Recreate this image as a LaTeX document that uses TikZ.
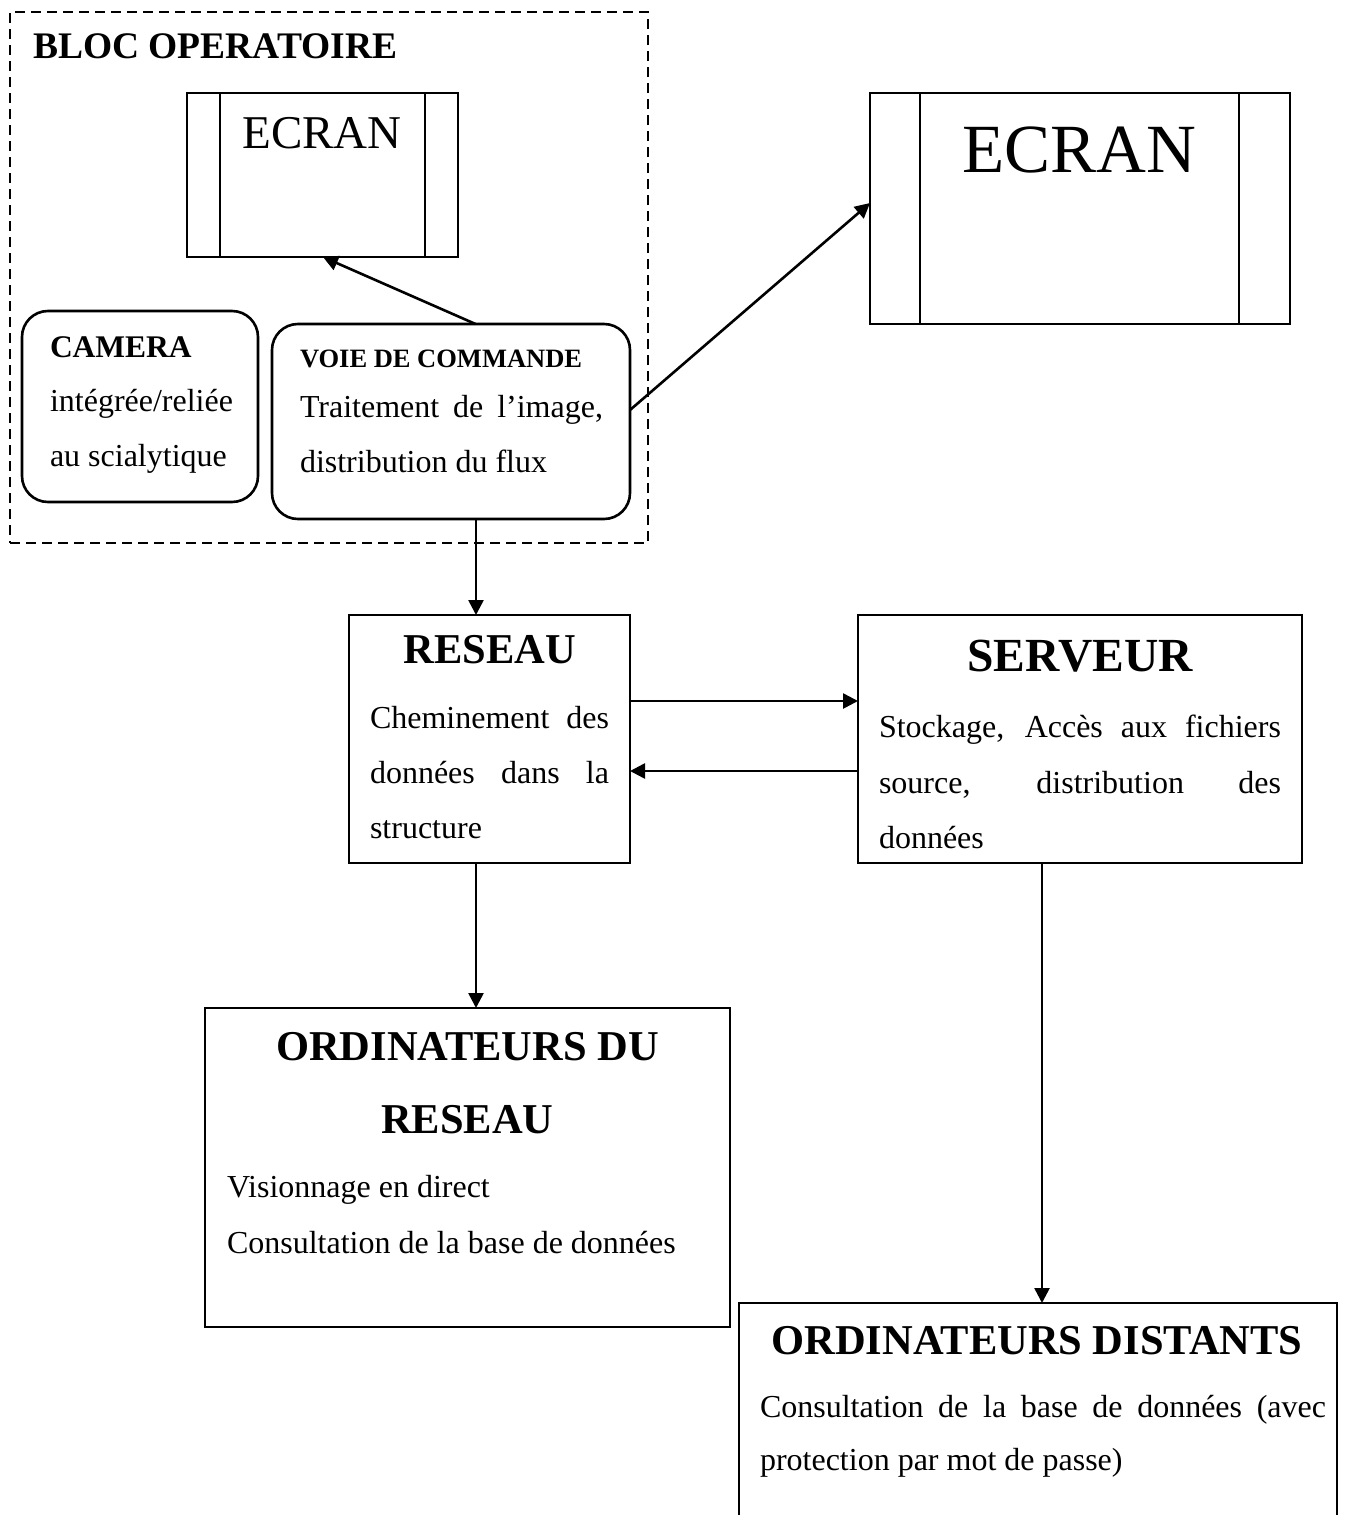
\documentclass[tikz,border=0pt]{standalone}
\usepackage{fontspec}
\setmainfont{Liberation Serif}
\usetikzlibrary{arrows.meta}
\newcommand{\fs}[1]{\fontsize{#1}{#1}\selectfont}
\begin{document}
\begin{tikzpicture}[x=1pt,y=-1pt,
  box/.style={draw,line width=2.6pt,inner sep=0pt,outer sep=0pt},
  rbox/.style={box,rounded corners=26pt},
  txt/.style={inner sep=0pt,outer sep=0pt,anchor=base west},
  ctxt/.style={inner sep=0pt,outer sep=0pt,anchor=base},
  inner/.style={line width=1.8pt},
  arr/.style={line width=2.6pt,-{Triangle[length=15pt,width=15pt]}}]
\useasboundingbox (0,0) rectangle (1344,1515);
\clip (0,0) rectangle (1344,1515);
\fill[white] (0,0) rectangle (1344,1515);
% dashed block
\node[draw,line width=2.6pt,dash pattern=on 10pt off 6pt,inner sep=0pt,minimum width=638pt,minimum height=531pt] (bloc) at (329,277.5) {};
\node[txt] (bloct) at (33,58) {\fs{37.5}\bfseries BLOC OPERATOIRE};
% small screen
\node[box,minimum width=271pt,minimum height=164pt] (ecran1) at (322.5,175) {};
\draw[inner] (220,93) -- (220,257);
\draw[inner] (425,93) -- (425,257);
\node[ctxt] (ecran1t) at (322,148) {\fs{47}ECRAN};
% big screen
\node[box,minimum width=420pt,minimum height=231pt] (ecran2) at (1080,208.5) {};
\draw[inner] (920,93) -- (920,324);
\draw[inner] (1239,93) -- (1239,324);
\node[ctxt] (ecran2t) at (1079,172) {\fs{69}ECRAN};
% camera
\node[rbox,minimum width=236pt,minimum height=191pt] (camera) at (140,406.5) {};
\node[txt] (camt1) at (50,357) {\fs{31.5}\bfseries CAMERA};
\node[txt] (camt2) at (50,411) {\fs{32}intégrée/reliée};
\node[txt] (camt3) at (50,466) {\fs{32}au scialytique};
% voie de commande
\node[rbox,minimum width=358pt,minimum height=195pt] (voie) at (451,421.5) {};
\node[txt] (voiet1) at (300,367) {\fs{26.5}\bfseries VOIE DE COMMANDE};
\node[txt] (voiet2) at (300,417) {\fs{32}\makebox[303pt][s]{Traitement de l’image,}};
\node[txt] (voiet3) at (300,472) {\fs{32}distribution du flux};
% reseau
\node[box,minimum width=281pt,minimum height=248pt] (reseau) at (489.5,739) {};
\node[ctxt] (reseaut) at (490,663) {\fs{42.5}\bfseries RESEAU};
\node[txt] (rest1) at (370,728) {\fs{32}\makebox[239pt][s]{Cheminement des}};
\node[txt] (rest2) at (370,783) {\fs{32}\makebox[239pt][s]{données dans la}};
\node[txt] (rest3) at (370,838) {\fs{32}structure};
% serveur
\node[box,minimum width=444pt,minimum height=248pt] (serveur) at (1080,739) {};
\node[ctxt] (serveurt) at (1080,671) {\fs{47.5}\bfseries SERVEUR};
\node[txt] (sert1) at (879,737) {\fs{32}\makebox[402pt][s]{Stockage, Accès aux fichiers}};
\node[txt] (sert2) at (879,793) {\fs{32}\makebox[402pt][s]{source, distribution des}};
\node[txt] (sert3) at (879,848) {\fs{32}données};
% ordinateurs du reseau
\node[box,minimum width=525pt,minimum height=319pt] (ordres) at (467.5,1167.5) {};
\node[ctxt] (ordt1) at (467.5,1060) {\fs{42.5}\bfseries ORDINATEURS DU};
\node[ctxt] (ordt2) at (467.5,1133) {\fs{42.5}\bfseries RESEAU};
\node[txt] (ordt3) at (227,1197) {\fs{32}Visionnage en direct};
\node[txt] (ordt4) at (227,1253) {\fs{32}Consultation de la base de données};
% ordinateurs distants
\node[inner sep=0pt,outer sep=0pt,minimum width=598pt,minimum height=250pt] (dist) at (1038,1428) {};
\draw[line width=2.6pt] (dist.south west) -- (dist.north west) -- (dist.north east) -- (dist.south east);
\node[ctxt] (distt1) at (1037,1354) {\fs{42.5}\bfseries ORDINATEURS DISTANTS};
\node[txt] (distt2) at (760,1417) {\fs{32}\makebox[566pt][s]{Consultation de la base de données (avec}};
\node[txt] (distt3) at (760,1470) {\fs{32}protection par mot de passe)};
% connectors
\draw[arr] ([xshift=24.5pt]voie.north) -- ([xshift=0.5pt]ecran1.south);
\draw[arr] ([yshift=11.5pt]voie.east) -- ([yshift=5.5pt]ecran2.west);
\draw[arr] ([xshift=25pt]voie.south) -- ([xshift=25pt]voie.south |- reseau.north);
\draw[arr] ([yshift=-86pt]reseau.north east) -- ([yshift=-86pt]serveur.north west);
\draw[arr] ([yshift=-156pt]serveur.north west) -- ([yshift=-156pt]reseau.north east);
\draw[arr] ([xshift=-13.5pt]reseau.south) -- ([xshift=-13.5pt]reseau.south |- ordres.north);
\draw[arr] ([xshift=-38pt]serveur.south) -- ([xshift=-38pt]serveur.south |- dist.north);
\end{tikzpicture}
\end{document}
